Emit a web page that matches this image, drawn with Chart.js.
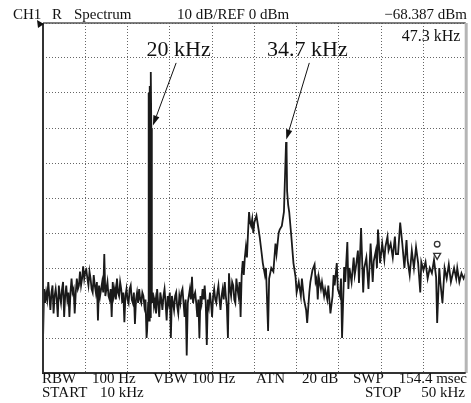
<!DOCTYPE html>
<html><head><meta charset="utf-8">
<script src="https://cdn.jsdelivr.net/npm/chart.js@4.4.1/dist/chart.umd.min.js"></script>
<style>html,body{margin:0;padding:0;background:#fff}canvas{display:block}</style>
</head><body>
<canvas id="c" width="471" height="403"></canvas>
<script>
// ---- data (frequency in kHz, level in dBm) ----
const freqLow = [
10.0,10.1,10.2,10.3,10.4,10.5,10.6,10.7,10.8,10.9,
11.0,11.1,11.2,11.3,11.4,11.5,11.6,11.7,11.8,11.9,
12.0,12.1,12.2,12.3,12.4,12.5,12.6,12.7,12.8,12.9,
13.0,13.1,13.2,13.3,13.4,13.5,13.6,13.7,13.8,13.9,
14.0,14.1,14.2,14.3,14.4,14.5,14.6,14.7,14.8,14.9,
15.0,15.1,15.2,15.3,15.4,15.5,15.6,15.7,15.8,15.9,
16.0,16.1,16.2,16.3,16.4,16.5,16.6,16.7,16.8,16.9,
17.0,17.1,17.2,17.3,17.4,17.5,17.6,17.7,17.8,17.9,
18.0,18.1,18.2,18.3,18.4,18.5,18.6,18.7,18.8,18.9,
19.0,19.1,19.2,19.3,19.4,19.5,19.6,19.7,19.8
];
const levelLow = [
-91,-76,-80,-77,-79,-74,-78,-82,-77,-75,
-83,-78,-76,-79,-84,-75,-78,-80,-76,-74,
-84,-78,-75,-79,-77,-84,-77,-73,-77,-76,
-83,-77,-73,-76,-75,-71,-75,-73,-69.5,-73,
-71,-70.5,-73,-75,-71,-73,-76,-77,-72,-75,
-77,-74,-85,-75,-78,-76,-74,-77,-66,-78,
-76,-74,-78,-79,-76,-84,-74,-78,-76,-79,
-73,-77,-78,-74,-76,-80,-77,-85.5,-78,-76,
-79,-80,-76,-75,-79,-80,-77,-86,-79,-77,
-80,-76,-79,-80,-77,-78,-81,-79,-90
];
// 20 kHz tone
const freqTone = [19.85,19.95,20.0,20.05,20.1,20.15,20.2,20.25,20.3];
const levelTone = [-88,-80,-20,-85,-18,-84,-14,-30,-80];
const freqMid = [
20.4,20.5,20.6,20.7,20.8,20.9,
21.0,21.1,21.2,21.3,21.4,21.5,21.6,21.7,21.8,21.9,
22.0,22.1,22.2,22.3,22.4,22.5,22.6,22.7,22.8,22.9,
23.0,23.1,23.2,23.3,23.4,23.5,23.6,23.7,23.8,23.9,
24.0,24.1,24.2,24.3,24.4,24.5,24.6,24.7,24.8,24.9,
25.0,25.1,25.2,25.3,25.4,25.5,25.6,25.7,25.8,25.9,
26.0,26.1,26.2,26.3,26.4,26.5,26.6,26.7,26.8,26.9,
27.0,27.1,27.2,27.3,27.4,27.5,27.6,27.7,27.8,27.9,
28.0,28.1,28.2,28.3,28.4,28.5,28.6,28.7,28.8,28.9,
29.0,29.1,29.2,29.3,29.4,29.5,29.6,29.7,29.8,29.9,
30.0
];
const levelMid = [
-77,-81,-79,-83,-76,-80,
-84,-77,-79,-82,-78,-76,-80,-85,-78,-80,
-77,-90,-78,-80,-82,-78,-77,-81,-83,-78,
-80,-77,-76,-80,-84,-79,-95,-80,-78,-76,
-79,-72.5,-80,-78,-77,-80,-84,-79,-90,-78,
-80,-76,-79,-75,-80,-92,-79,-81,-77,-80,
-84,-78,-76,-79,-80,-77,-75,-79,-82,-78,
-76,-79,-74,-78,-81,-90,-71.5,-76,-78,-74,
-75,-79,-80,-73,-76,-78,-74,-84,-72,-68,
-72,-67,-64,-67,-60,-54,-57,-58,-56,-60,
-57
];
const freqHigh = [
30.2,30.4,30.5,30.7,30.8,31.0,31.1,31.3,31.4,31.6,
31.8,32.0,32.1,32.3,32.4,32.6,32.8,32.9,33.0,33.05,
33.1,33.2,33.3,33.5,33.7,33.9,34.0,34.2,34.4,34.5,
34.7,34.9,35.0,35.2,35.3,35.5,35.7,35.8,35.9,36.0,
36.1,36.3,36.4,36.6,36.7,36.9,37.0,37.2,37.4,37.5,
37.6,37.8,37.9,38.1,38.2,38.3,38.5,38.6,38.8,38.9,
39.0,39.2,39.4,39.5,39.6,39.8,39.9,40.1,40.3,40.4,
40.6,40.8,41.0,41.2,41.3,41.5,41.6,41.7,41.9,42.1,
42.3,42.4,42.6,42.7,42.9,43.1,43.3,43.4,43.6,43.8,
44.0,44.2,44.4,44.5,44.7,44.9,45.1,45.3,45.5,45.7,
45.8,46.0,46.2,46.4,46.6,46.8,47.0,47.2,47.3,47.5,
47.6,47.8,48.0,48.2,48.4,48.6,48.9,49.1,49.2,49.4,
49.6,49.8,50.0
];
const levelHigh = [
-55,-59,-61,-66,-68.6,-72,-70,-88,-73,-70,
-71,-63,-66,-60,-59,-58,-54,-44,-34,-36,
-48,-52,-54,-61,-68.6,-72.6,-77,-74,-78,-73,
-79,-82,-85.7,-77,-74,-70.6,-69,-74,-73,-79,
-72.6,-76,-74,-78,-76,-79,-75,-83,-78,-72,
-75,-68.6,-76,-78,-73,-90,-69.7,-74,-62.6,-76,
-70,-74,-67,-72,-70,-65,-74.3,-58.6,-77,-70,
-67,-76,-63,-74,-68,-65,-70,-59,-68.6,-63,
-67.7,-64,-61,-65,-63,-67,-61,-66,-66,-57,
-63,-70,-62,-67.7,-72,-65,-70,-64,-68.6,-77,
-68.3,-70.6,-68.3,-73,-70,-71.5,-67.7,-72.6,-85.7,-70,
-74,-80,-70,-73,-69,-74,-70,-73,-70,-74,
-71.5,-73,-71.5
];
const freqKHz = [].concat(freqLow, freqTone, freqMid, freqHigh);
const levelDBm = [].concat(levelLow, levelTone, levelMid, levelHigh);

// marker symbol (circle over down-triangle)
const markerFreq = [47.3, 47.3];
const markerLevel = [-63.2, -66.4];
// axis settings: 10-50 kHz, 4 kHz/div ; 0 to -100 dBm, 10 dB/div
const xRange = [10, 50];
const xStep = 4;
const yRange = [-100, 0];
const yStep = 10;

// annotation arrows (data units): tail -> tip
const arrows = [
  {from:[22.6,-11.4], to:[20.4,-29.3]},
  {from:[35.2,-11.4], to:[33.02,-33.3]}
];
const plotLabels = [
  {text:'20 kHz',   at:[19.8,-9.4], size:22, align:'left'},
  {text:'34.7 kHz', at:[31.2,-9.4], size:22, align:'left'},
  {text:'47.3 kHz', at:[49.5,-5.1], size:16, align:'right'}
];
const outerTexts = [
  {t:'CH1', x:13, y:19}, {t:'R', x:52, y:19}, {t:'Spectrum', x:74, y:19},
  {t:'10 dB/REF 0 dBm', x:177, y:19}, {t:'\u221268.387 dBm', x:467, y:19, a:'right'},
  {t:'RBW', x:42, y:383}, {t:'100 Hz', x:92, y:383}, {t:'VBW 100 Hz', x:153, y:383},
  {t:'ATN', x:256, y:383}, {t:'20 dB', x:302, y:383}, {t:'SWP', x:353, y:383},
  {t:'154.4 msec', x:467, y:383, a:'right'},
  {t:'START', x:42, y:397}, {t:'10 kHz', x:100, y:397},
  {t:'STOP', x:365, y:397}, {t:'50 kHz', x:465, y:397, a:'right'}
];

const SERIF = '"Liberation Serif", "DejaVu Serif", serif';
const TEXT_COLOR = '#111';

const decor = {
  id: 'decor',
  afterDatasetsDraw(chart) {
    const ctx = chart.ctx, a = chart.chartArea;
    const xs = chart.scales.x, ys = chart.scales.y;
    ctx.save();
    // frame
    ctx.lineCap = 'butt';
    ctx.strokeStyle = '#555'; ctx.lineWidth = 1.5;
    ctx.beginPath(); ctx.moveTo(a.left, a.top); ctx.lineTo(a.right, a.top); ctx.stroke();
    ctx.strokeStyle = '#b5b5b5'; ctx.lineWidth = 3;
    ctx.beginPath(); ctx.moveTo(a.right + 0.5, a.top); ctx.lineTo(a.right + 0.5, a.bottom); ctx.stroke();
    ctx.strokeStyle = '#333'; ctx.lineWidth = 2;
    ctx.beginPath(); ctx.moveTo(a.left, a.top); ctx.lineTo(a.left, a.bottom); ctx.lineTo(a.right, a.bottom); ctx.stroke();
    // little channel pointer at top-left
    ctx.fillStyle = '#111';
    ctx.beginPath(); ctx.moveTo(a.left - 6, a.top - 3); ctx.lineTo(a.left + 1, a.top + 1); ctx.lineTo(a.left - 5, a.top + 5); ctx.closePath(); ctx.fill();
    // arrows
    ctx.strokeStyle = '#111'; ctx.fillStyle = '#111'; ctx.lineWidth = 1;
    arrows.forEach(ar => {
      const x0 = xs.getPixelForValue(ar.from[0]), y0 = ys.getPixelForValue(ar.from[1]);
      const x1 = xs.getPixelForValue(ar.to[0]), y1 = ys.getPixelForValue(ar.to[1]);
      const ang = Math.atan2(y1 - y0, x1 - x0);
      const L = 10, W = 3.2;
      const bx = x1 - L * Math.cos(ang), by = y1 - L * Math.sin(ang);
      ctx.beginPath(); ctx.moveTo(x0, y0); ctx.lineTo(bx, by); ctx.stroke();
      ctx.beginPath();
      ctx.moveTo(x1, y1);
      ctx.lineTo(bx + W * Math.sin(ang), by - W * Math.cos(ang));
      ctx.lineTo(bx - W * Math.sin(ang), by + W * Math.cos(ang));
      ctx.closePath(); ctx.fill();
    });
    // labels inside the plot
    ctx.fillStyle = TEXT_COLOR; ctx.textBaseline = 'alphabetic';
    plotLabels.forEach(l => {
      ctx.font = l.size + 'px ' + SERIF;
      ctx.textAlign = l.align;
      ctx.fillText(l.text, xs.getPixelForValue(l.at[0]), ys.getPixelForValue(l.at[1]));
    });
    // header and footer
    ctx.font = '15px ' + SERIF;
    outerTexts.forEach(o => {
      ctx.textAlign = o.a || 'left';
      ctx.fillText(o.t, o.x, o.y);
    });
    ctx.restore();
  }
};

new Chart(document.getElementById('c'), {
  type: 'line',
  data: {
    datasets: [
      {
        data: freqKHz.map((f, i) => ({x: f, y: levelDBm[i]})),
        borderColor: '#1a1a1a', borderWidth: 1.8, pointRadius: 0, tension: 0,
        borderJoinStyle: 'miter', fill: false
      },
      {
        data: markerFreq.map((f, i) => ({x: f, y: markerLevel[i]})),
        showLine: false,
        pointStyle: ['circle', 'triangle'],
        rotation: [0, 180],
        pointRadius: [2.8, 4],
        pointBorderWidth: 1.3,
        pointBorderColor: '#333',
        pointBackgroundColor: '#fff'
      }
    ]
  },
  options: {
    responsive: false,
    animation: false,
    devicePixelRatio: 1,
    layout: {padding: {left: 43, right: 4, top: 23, bottom: 30}},
    plugins: {legend: {display: false}, tooltip: {enabled: false}},
    scales: {
      x: {
        type: 'linear', min: xRange[0], max: xRange[1],
        ticks: {display: false, stepSize: xStep},
        grid: {color: '#666', lineWidth: 1, drawTicks: false},
        border: {display: false, dash: [1, 2]}
      },
      y: {
        type: 'linear', min: yRange[0], max: yRange[1],
        ticks: {display: false, stepSize: yStep},
        grid: {color: '#666', lineWidth: 1, drawTicks: false},
        border: {display: false, dash: [1, 2]}
      }
    }
  },
  plugins: [decor]
});
</script>
</body></html>
